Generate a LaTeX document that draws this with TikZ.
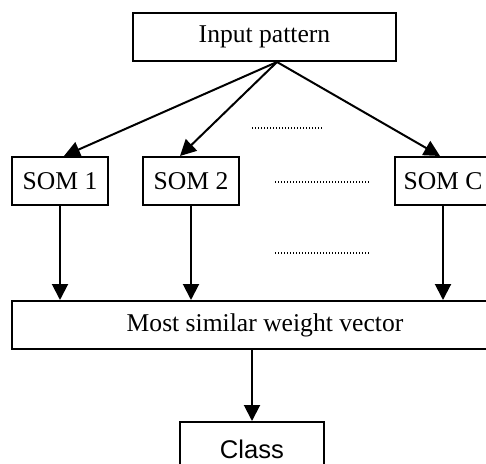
\documentclass[tikz,border=0pt]{standalone}
\usepackage{fontspec}
\setmainfont{Liberation Serif}
\newfontfamily\classfont{Liberation Sans}
\usetikzlibrary{arrows.meta}

\begin{document}
\begin{tikzpicture}[x=0.5pt, y=-0.5pt,
    box/.style={draw, line width=1pt, inner sep=0pt, minimum height=24pt},
    link/.style={line width=1pt, -{Triangle[length=8pt, width=8pt]}},
    gap/.style={line width=0.6pt, dash pattern=on 0.5pt off 1pt},
    font=\fontsize{12.8}{15}\selectfont]
    \useasboundingbox (0,0) rectangle (486,464);
    \clip (0,0) rectangle (486,464);
    % input and the maps
    \node[box, minimum width=131.5pt] (input) at (264.5,37) {Input pattern};
    \coordinate (src) at (277,62);
    \node[box, minimum width=48pt] (som1) at (60,181) {SOM 1};
    \node[box, minimum width=48pt] (som2) at (191,181) {SOM 2};
    \node[box, minimum width=48pt] (somc) at (443,181) {SOM C};
    % winner and output
    \node[box, minimum width=253pt] (most) at (265,325) {Most similar weight vector};
    \node[box, minimum width=72pt, minimum height=27pt, anchor=north,
      font=\classfont\fontsize{12.8}{15}\selectfont] (class) at (252,421) {Class};
    \draw[link] (src) -- ([xshift=2pt]som1.north);
    \draw[link] (src) -- ([xshift=-5.5pt]som2.north);
    \draw[link] (src) -- ([xshift=-1.5pt]somc.north);
    \foreach \s in {som1, som2, somc}
    {
      \draw[link] (\s.south) -- (\s.south |- most.north);
    }
    \draw[link] (most.south -| class.north) -- (class.north);
    % dotted gaps between the maps
    \draw[gap] (252,128) -- (322,128);
    \draw[gap] (275,182) -- (370,182);
    \draw[gap] (275,253) -- (370,253);
\end{tikzpicture}
\end{document}
